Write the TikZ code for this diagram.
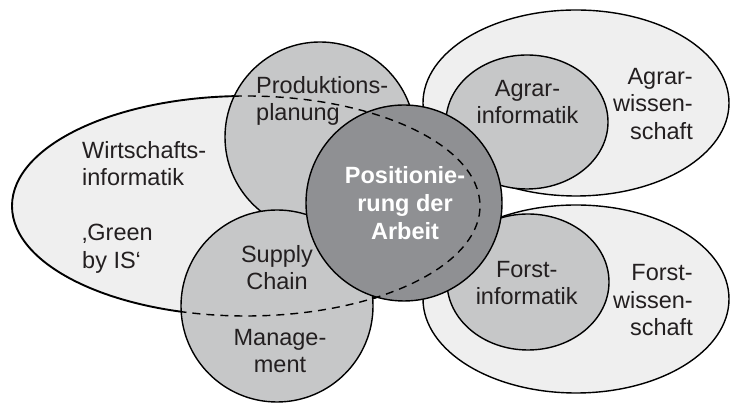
\documentclass[tikz,border=0pt]{standalone}
\usepackage{fontspec}
\setmainfont{Liberation Sans}
\usetikzlibrary{shapes.geometric}
\definecolor{paleset}{HTML}{EFEFEF}
\definecolor{midset}{HTML}{C6C7C8}
\definecolor{coreset}{HTML}{8F9093}
\definecolor{inkgray}{HTML}{231F20}
\begin{document}
\begin{tikzpicture}[x=1pt,y=1pt,
  region/.style={draw=black, line width=1.4pt, inner sep=0pt, outer sep=0pt},
  pale/.style={region, fill=paleset},
  mid/.style={region, fill=midset},
  label/.style={font=\fontsize{23.5}{27.5}\selectfont, text=inkgray, inner sep=0pt},
  corelabel/.style={font=\fontsize{23.5}{28.3}\selectfont\bfseries, text=white, inner sep=0pt}
]
\path[use as bounding box] (0,0) rectangle (731,403);

% agricultural and forest sciences on the right
\node[pale, ellipse, minimum width=306pt, minimum height=186pt] (agw) at (576,300) {};
\node[mid, ellipse, minimum width=162pt, minimum height=134pt] (agi) at (527,281) {};
\node[pale, ellipse, minimum width=306pt, minimum height=188pt] (fow) at (576,104) {};
\node[mid, ellipse, minimum width=162pt, minimum height=136pt] (foi) at (528,121) {};

% business informatics field
\node[pale, ellipse, line width=1.9pt, minimum width=468pt, minimum height=220pt] (wi) at (246,197) {};

% overlapping topic circles
\node[mid, circle, minimum size=190pt] (pp) at (320,266) {};
\node[mid, circle, minimum size=192pt] (scm) at (277,97) {};
\node[region, circle, fill=coreset, minimum size=196pt] (core) at (404,200) {};

% hidden part of the business informatics border
\draw[line width=1.4pt, dash pattern=on 8pt off 6pt]
  ([shift={(93:234pt and 110pt)}]wi.center)
  arc[start angle=93, end angle=-106, x radius=234pt, y radius=110pt];

% labels
\node[label, align=left, anchor=base west] (tpp) at (256,282) {Produktions-\\planung};
\node[label, align=left, anchor=base west] (twi) at (82,134.5)
  {Wirtschafts-\\informatik\\[27.5pt]‚Green\\by IS‘};
\node[corelabel, align=center, anchor=base] (tcore) at (405,163) {Positionie-\\rung der\\Arbeit};
\node[label, align=center, anchor=base] (tsc) at (277,113) {Supply\\Chain};
\node[label, align=center, anchor=base] (tmg) at (280,30.3) {Manage-\\ment};
\node[label, align=center, anchor=base] (tagi) at (527.5,279) {Agrar-\\informatik};
\node[label, align=right, anchor=base east] (tagw) at (693,263.7) {Agrar-\\wissen-\\schaft};
\node[label, align=center, anchor=base] (tfoi) at (526.7,98) {Forst-\\informatik};
\node[label, align=right, anchor=base east] (tfow) at (693,67) {Forst-\\wissen-\\schaft};
\end{tikzpicture}
\end{document}
